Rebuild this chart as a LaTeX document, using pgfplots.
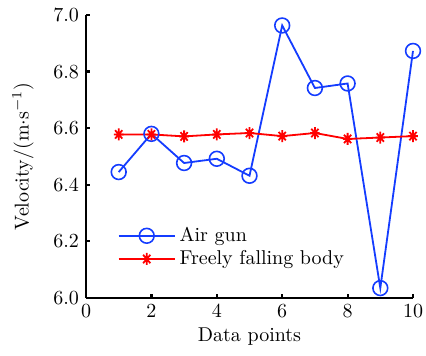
\documentclass[border=0pt]{standalone}
\usepackage{pgfplots}
\pgfplotsset{compat=1.18}
\definecolor{myblue}{RGB}{20,60,255}
\definecolor{myred}{RGB}{255,0,0}
\newcommand\fnt{\rmfamily\fontsize{10}{12}\selectfont}
\pgfdeclareplotmark{mstar}{%
 \pgfpathmoveto{\pgfqpoint{-0.8\pgfplotmarksize}{0pt}}\pgfpathlineto{\pgfqpoint{0.8\pgfplotmarksize}{0pt}}%
 \pgfpathmoveto{\pgfqpoint{0pt}{-\pgfplotmarksize}}\pgfpathlineto{\pgfqpoint{0pt}{\pgfplotmarksize}}%
 \pgfpathmoveto{\pgfqpoint{-0.6\pgfplotmarksize}{-0.7\pgfplotmarksize}}\pgfpathlineto{\pgfqpoint{0.6\pgfplotmarksize}{0.7\pgfplotmarksize}}%
 \pgfpathmoveto{\pgfqpoint{-0.6\pgfplotmarksize}{0.7\pgfplotmarksize}}\pgfpathlineto{\pgfqpoint{0.6\pgfplotmarksize}{-0.7\pgfplotmarksize}}%
 \pgfusepathqstroke}
\begin{document}
\fnt
\begin{tikzpicture}[font=\fnt]
\begin{axis}[
  name=ax,
  scale only axis,
  width=163.5pt, height=141.5pt,
  xmin=0, xmax=10, ymin=6.0, ymax=7.0,
  axis x line=bottom, axis y line=left,
  axis line style={-, line width=1.3pt},
  tick align=inside,
  major tick length=2pt,
  tick style={line width=1.1pt, black},
  xtick={0,2,4,6,8,10},
  ytick={6.0,6.2,6.4,6.6,6.8,7.0},
  yticklabel style={/pgf/number format/fixed, /pgf/number format/fixed zerofill, /pgf/number format/precision=1},
  ticklabel style={font=\fnt},
  label style={font=\fnt},
  xlabel={Data points},
  ylabel={Velocity/(m$\cdot$s$^{-1}$)},
  xlabel style={yshift=2pt},
  ylabel style={yshift=3pt},
  legend style={draw=none, fill=none, at={(0.09,0.085)}, anchor=south west,
    font=\fnt, row sep=-1pt, inner sep=1pt},
  legend cell align=left,
  legend image code/.code={
    \draw[mark repeat=2, mark phase=2, #1] plot coordinates {(0pt,0pt) (14pt,0pt) (28pt,0pt)};
  },
  clip=false,
]
\addplot[color=myblue, line width=0.9pt, mark=o, mark size=3.7pt, mark options={line width=0.8pt}]
coordinates {(1,6.445) (2,6.58) (3,6.477) (4,6.492) (5,6.432) (6,6.963) (7,6.742) (8,6.758) (9,6.035) (10,6.873)};
\addlegendentry{Air gun}
\addplot[color=myred, line width=0.9pt, mark=mstar, mark size=3pt, mark options={line width=0.9pt}]
coordinates {(1,6.578) (2,6.578) (3,6.571) (4,6.578) (5,6.583) (6,6.572) (7,6.583) (8,6.562) (9,6.567) (10,6.572)};
\addlegendentry{Freely falling body}
\end{axis}
\pgfresetboundingbox
\path[use as bounding box] ([xshift=-43pt,yshift=-29pt]ax.south west) rectangle ([xshift=6.5pt,yshift=7.5pt]ax.north east);
\end{tikzpicture}
\end{document}
